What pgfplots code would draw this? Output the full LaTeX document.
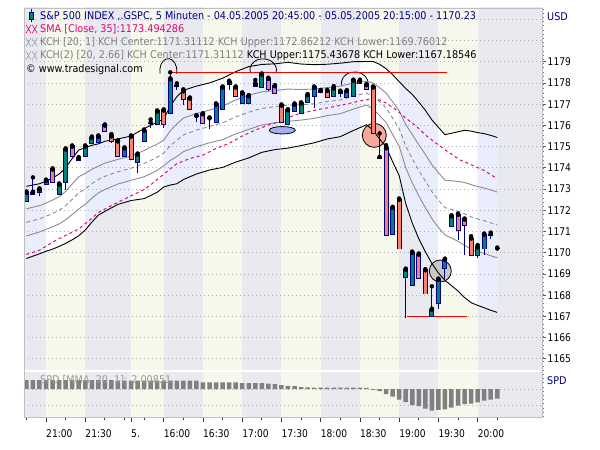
\documentclass[border=0pt]{standalone}
\usepackage{pgfplots}
\pgfplotsset{compat=1.18}
\usepgfplotslibrary{fillbetween}
\usepackage{pgfplotstable}
\usepackage{fontspec}
\setmainfont{DejaVu Sans}[FakeStretch=0.91]
\newfontfamily\numfont{DejaVu Sans}[FakeStretch=0.86]
\newcommand{\tfont}{\fontsize{10.6bp}{12bp}\selectfont}
\newcommand{\nfont}{\numfont\fontsize{10.6bp}{12bp}\selectfont}

\definecolor{bgGray}{RGB}{233,233,240}
\definecolor{bgYel}{RGB}{246,248,236}
\definecolor{chGray}{RGB}{233,237,252}
\definecolor{navyc}{RGB}{0,0,128}
\definecolor{tealc}{RGB}{0,128,128}
\definecolor{salmonc}{RGB}{250,128,114}
\definecolor{pinkc}{RGB}{230,0,126}
\definecolor{gridc}{RGB}{175,175,180}
\definecolor{framec}{RGB}{190,190,195}
\definecolor{linegray}{RGB}{140,140,140}
\definecolor{txtgray}{RGB}{128,128,128}
\definecolor{xxgray}{RGB}{160,160,160}
\definecolor{spdc}{RGB}{128,128,128}

% candles: k O H L C
\pgfplotstableread{
k O H L C
0 1172.42 1172.84 1172.42 1172.84
1 1172.75 1173.55 1172.75 1172.84
2 1172.85 1172.99 1172.67 1172.99
3 1173.22 1173.40 1173.22 1173.40
5 1172.75 1173.22 1172.75 1173.22
6 1173.35 1174.87 1172.96 1174.87
9 1174.54 1175.01 1174.54 1175.01
10 1175.15 1175.43 1175.15 1175.43
11 1175.23 1175.48 1175.23 1175.48
15 1174.57 1174.92 1174.57 1174.92
17 1174.26 1174.63 1173.78 1174.63
18 1175.25 1175.76 1175.25 1175.76
20 1176.08 1176.66 1176.08 1176.66
22 1176.57 1178.50 1176.57 1178.17
29 1176.14 1176.99 1176.09 1176.99
30 1176.75 1177.79 1176.75 1177.79
33 1177.07 1177.51 1177.07 1177.51
34 1177.07 1177.38 1177.07 1177.38
35 1177.85 1178.14 1177.85 1177.95
36 1177.79 1178.40 1177.79 1178.40
40 1176.08 1176.72 1176.08 1176.72
41 1176.69 1176.99 1176.69 1176.99
42 1176.60 1177.04 1176.60 1177.04
43 1177.12 1177.43 1177.12 1177.43
44 1177.40 1177.79 1176.80 1177.79
47 1177.40 1177.85 1177.40 1177.74
48 1177.51 1177.59 1177.35 1177.59
49 1177.32 1177.62 1177.32 1177.62
50 1177.40 1178.11 1177.40 1178.11
56 1170.86 1172.12 1170.86 1172.12
58 1168.86 1169.21 1166.95 1169.21
59 1168.50 1170.01 1168.50 1170.01
62 1167.04 1168.42 1167.04 1167.32
63 1167.65 1168.74 1167.37 1168.74
64 1169.26 1169.68 1168.70 1169.68
65 1171.28 1171.72 1171.28 1171.72
69 1169.88 1170.36 1169.73 1170.25
70 1170.20 1170.86 1169.88 1170.86
}\upC
\pgfplotstableread{
k O H L C
4 1173.93 1173.93 1173.32 1173.32
7 1175.01 1175.01 1174.54 1174.54
8 1174.46 1174.46 1174.37 1174.37
12 1176.00 1176.00 1175.72 1175.72
13 1175.48 1175.59 1175.18 1175.28
14 1175.25 1175.25 1174.54 1174.54
16 1175.48 1175.48 1174.40 1174.40
21 1176.71 1176.71 1175.86 1176.08
24 1177.60 1177.70 1176.96 1177.23
25 1177.27 1177.27 1176.75 1176.75
27 1176.53 1176.53 1176.09 1176.09
31 1178.06 1178.06 1177.67 1177.93
32 1177.79 1177.79 1177.38 1177.38
37 1178.20 1178.20 1177.62 1177.70
38 1177.85 1177.85 1177.54 1177.54
39 1176.94 1176.94 1176.09 1176.17
45 1177.62 1177.67 1177.56 1177.56
46 1177.63 1177.63 1177.35 1177.35
51 1178.11 1178.11 1178.01 1178.01
52 1177.90 1177.90 1177.70 1177.70
53 1177.79 1177.79 1175.62 1175.62
55 1174.92 1175.07 1170.83 1170.83
57 1172.51 1172.51 1170.20 1170.20
60 1169.92 1169.92 1168.83 1168.83
61 1169.18 1169.18 1168.08 1168.08
66 1171.80 1171.80 1170.59 1171.09
67 1171.57 1171.57 1169.88 1171.30
68 1170.67 1170.78 1169.88 1169.88
}\dnC
\pgfplotstableread{
k O H L C
19 1176.09 1176.28 1175.86 1176.09
23 1177.85 1177.98 1177.67 1177.85
26 1176.44 1176.44 1176.16 1176.44
28 1176.33 1176.33 1175.81 1176.33
54 1174.47 1175.62 1174.47 1174.47
71 1170.83 1170.95 1170.67 1170.83
72 1170.20 1170.20 1170.20 1170.20
}\djC
% Keltner channels
\pgfplotstableread{
k up2 up1 ctr lo1 lo2
0 1173.13 1172.07 1171.43 1170.79 1169.73
2 1173.25 1172.22 1171.60 1170.98 1169.95
3 1173.37 1172.34 1171.72 1171.10 1170.07
4 1173.53 1172.48 1171.85 1171.22 1170.17
5 1173.70 1172.64 1172.00 1171.36 1170.30
6 1174.00 1172.89 1172.22 1171.55 1170.44
7 1174.44 1173.24 1172.52 1171.80 1170.61
8 1174.84 1173.58 1172.82 1172.06 1170.80
9 1174.95 1173.74 1173.01 1172.28 1171.07
10 1175.06 1173.93 1173.25 1172.57 1171.44
11 1175.13 1174.08 1173.45 1172.82 1171.77
12 1175.25 1174.22 1173.60 1172.98 1171.95
14 1175.36 1174.40 1173.82 1173.24 1172.28
16 1175.50 1174.55 1173.98 1173.41 1172.46
18 1175.85 1174.82 1174.20 1173.58 1172.55
20 1176.15 1175.12 1174.50 1173.88 1172.85
21 1176.30 1175.30 1174.70 1174.10 1173.10
22 1176.91 1175.75 1175.05 1174.35 1173.19
23 1177.35 1176.07 1175.30 1174.53 1173.25
24 1177.65 1176.34 1175.55 1174.76 1173.45
26 1177.85 1176.56 1175.78 1175.00 1173.71
28 1178.00 1176.72 1175.95 1175.18 1173.90
30 1178.22 1176.91 1176.12 1175.33 1174.02
32 1178.53 1177.20 1176.40 1175.60 1174.27
34 1178.77 1177.43 1176.62 1175.81 1174.47
36 1178.87 1177.58 1176.80 1176.02 1174.73
38 1178.90 1177.64 1176.88 1176.12 1174.86
40 1178.97 1177.71 1176.95 1176.19 1174.93
42 1178.89 1177.69 1176.97 1176.25 1175.05
44 1178.86 1177.71 1177.02 1176.33 1175.18
46 1178.88 1177.78 1177.12 1176.46 1175.36
48 1178.93 1177.85 1177.20 1176.55 1175.47
50 1179.00 1177.99 1177.38 1176.77 1175.76
52 1179.01 1178.08 1177.52 1176.96 1176.03
53 1179.01 1178.00 1177.39 1176.78 1175.77
54 1178.88 1177.78 1177.12 1176.46 1175.36
55 1178.67 1177.52 1176.83 1176.14 1174.99
56 1178.39 1177.11 1176.34 1175.57 1174.29
57 1178.06 1176.68 1175.85 1175.02 1173.64
58 1177.74 1176.05 1175.03 1174.01 1172.32
59 1177.46 1175.57 1174.43 1173.29 1171.40
60 1177.10 1175.09 1173.88 1172.67 1170.66
61 1176.71 1174.63 1173.38 1172.13 1170.05
62 1176.26 1174.15 1172.88 1171.61 1169.50
63 1175.91 1173.77 1172.48 1171.19 1169.05
64 1175.56 1173.42 1172.13 1170.84 1168.70
65 1175.63 1173.39 1172.04 1170.69 1168.45
66 1175.70 1173.36 1171.95 1170.54 1168.20
67 1175.77 1173.31 1171.83 1170.35 1167.89
68 1175.73 1173.21 1171.69 1170.17 1167.65
69 1175.66 1173.12 1171.59 1170.06 1167.52
70 1175.61 1173.05 1171.51 1169.97 1167.41
71 1175.53 1172.96 1171.41 1169.86 1167.29
72 1175.43 1172.86 1171.31 1169.76 1167.19
}\kch
\pgfplotstableread{
k sma
0 1169.92
2 1170.12
4 1170.50
6 1170.82
8 1171.12
10 1171.62
11 1171.90
13 1172.22
14 1172.38
16 1172.68
18 1172.98
19 1173.20
21 1173.70
23 1174.20
25 1174.44
27 1174.60
29 1174.92
31 1175.15
33 1175.50
35 1175.78
37 1176.02
39 1176.20
41 1176.49
43 1176.64
45 1176.77
47 1176.88
49 1177.01
51 1177.15
52.5 1177.23
54 1177.20
55 1177.05
56.6 1176.72
58 1176.35
59.7 1175.94
61 1175.55
62.7 1175.15
64.5 1174.75
66.3 1174.37
68 1174.15
69.9 1173.89
72 1173.49
}\sma
\pgfplotstableread{
k v
0 1.08
1 1.08
2 1.08
3 1.08
4 1.08
5 1.08
6 1.08
7 1.08
8 1.08
9 1.08
10 1.08
11 1.08
12 1.08
13 1.08
14 1.0
15 1.0
16 1.0
17 1.0
18 1.0
19 1.0
20 1.0
21 1.0
22 1.0
23 1.0
24 1.0
25 1.0
26 1.0
27 0.8
28 0.8
29 0.8
30 0.8
31 0.8
32 0.8
33 0.7
34 0.7
35 0.7
36 0.7
37 0.65
38 0.6
39 0.48
40 0.38
41 0.36
42 0.22
43 0.2
44 0.16
45 0.16
46 0.16
47 0.16
48 0.16
49 0.16
50 0.16
51 0.16
52 0.14
53 -0.1
54 -0.25
55 -0.6
56 -0.92
57 -1.28
58 -1.56
59 -1.92
60 -2.04
61 -2.36
62 -2.6
63 -2.51
64 -2.43
65 -2.24
66 -2.0
67 -1.8
68 -1.76
69 -1.59
70 -1.4
71 -1.28
72 -1.16
}\spd

% thin "XX" legend icon: #1 = colour, #2 = x, #3 = y (bp, centre line)
\newcommand{\xxicon}[3]{%
  \draw[#1, line width=0.6bp] (#2bp,#3bp-4.2bp) -- ++(5bp,8.4bp) (#2bp,#3bp+4.2bp) -- ++(5bp,-8.4bp);
  \draw[#1, line width=0.6bp] (#2bp+6.2bp,#3bp-4.2bp) -- ++(5bp,8.4bp) (#2bp+6.2bp,#3bp+4.2bp) -- ++(5bp,-8.4bp);
}

\begin{document}
\begin{tikzpicture}
\path (0bp,0bp) rectangle (600bp,450bp);

% ---------------- main price panel ----------------
\begin{axis}[
  at={(24bp,79bp)}, anchor=south west, scale only axis,
  width=518bp, height=363bp,
  xmin=-0.367, xmax=78.84, ymin=1164.43, ymax=1181.53,
  axis line style={framec, line width=0.8bp},
  xtick=\empty,
  ytick={1165,1166,...,1179},
  ytick pos=right, yticklabel pos=right,
  tick align=outside,
  major tick length=3.5bp,
  tick style={black!65, line width=0.8bp},
  yticklabel style={anchor=west, inner sep=0pt, xshift=2bp, font=\nfont},
  /pgf/number format/assume math mode=true,
  /pgf/number format/1000 sep={},
]
\addplot[draw=none, name path=TOP, forget plot] coordinates {(-1,1182) (80,1182)};
\addplot[draw=none, name path=BOT, forget plot] coordinates {(-1,1164) (80,1164)};
\addplot[bgGray, forget plot] fill between[of=TOP and BOT, soft clip={domain=-1:3}];
\addplot[bgYel, forget plot] fill between[of=TOP and BOT, soft clip={domain=3:9}];
\addplot[bgGray, forget plot] fill between[of=TOP and BOT, soft clip={domain=9:16}];
\addplot[bgYel, forget plot] fill between[of=TOP and BOT, soft clip={domain=16:21}];
\addplot[bgGray, forget plot] fill between[of=TOP and BOT, soft clip={domain=21:27}];
\addplot[bgYel, forget plot] fill between[of=TOP and BOT, soft clip={domain=27:33}];
\addplot[bgGray, forget plot] fill between[of=TOP and BOT, soft clip={domain=33:39}];
\addplot[bgYel, forget plot] fill between[of=TOP and BOT, soft clip={domain=39:45}];
\addplot[bgGray, forget plot] fill between[of=TOP and BOT, soft clip={domain=45:51}];
\addplot[bgYel, forget plot] fill between[of=TOP and BOT, soft clip={domain=51:57}];
\addplot[bgGray, forget plot] fill between[of=TOP and BOT, soft clip={domain=57:63}];
\addplot[bgYel, forget plot] fill between[of=TOP and BOT, soft clip={domain=63:69}];
\addplot[bgGray, forget plot] fill between[of=TOP and BOT, soft clip={domain=69:80}];
% channel area
\addplot[draw=none, name path=U2, forget plot] table[x=k,y=up2]{\kch};
\addplot[draw=none, name path=L2, forget plot] table[x=k,y=lo2]{\kch};
\addplot[chGray, forget plot] fill between[of=U2 and L2, soft clip={domain=0:3}];
\addplot[white, forget plot] fill between[of=U2 and L2, soft clip={domain=3:9}];
\addplot[chGray, forget plot] fill between[of=U2 and L2, soft clip={domain=9:16}];
\addplot[white, forget plot] fill between[of=U2 and L2, soft clip={domain=16:21}];
\addplot[chGray, forget plot] fill between[of=U2 and L2, soft clip={domain=21:27}];
\addplot[white, forget plot] fill between[of=U2 and L2, soft clip={domain=27:33}];
\addplot[chGray, forget plot] fill between[of=U2 and L2, soft clip={domain=33:39}];
\addplot[white, forget plot] fill between[of=U2 and L2, soft clip={domain=39:45}];
\addplot[chGray, forget plot] fill between[of=U2 and L2, soft clip={domain=45:51}];
\addplot[white, forget plot] fill between[of=U2 and L2, soft clip={domain=51:57}];
\addplot[chGray, forget plot] fill between[of=U2 and L2, soft clip={domain=57:63}];
\addplot[white, forget plot] fill between[of=U2 and L2, soft clip={domain=63:69}];
\addplot[chGray, forget plot] fill between[of=U2 and L2, soft clip={domain=69:72}];
% grid
\pgfplotsinvokeforeach{1165,1166,...,1181}{
  \addplot[gridc, line width=0.8bp, dash pattern=on 0.8bp off 3.2bp, forget plot] coordinates {(-1,#1) (80,#1)};
}
% annotations (under the lines)
\draw[black, line width=0.8bp, fill={rgb,255:red,245;green,168;blue,158}] (axis cs:53.2,1175.53) circle[radius=12bp];
\draw[black, line width=0.8bp, fill={rgb,255:red,200;green,200;blue,202}] (axis cs:63.29,1169.14) circle[radius=11bp];
\draw[black, line width=0.8bp, fill={rgb,255:red,168;green,174;blue,242}] (axis cs:39.13,1175.77) ellipse[x radius=13bp, y radius=3.7bp];
\draw[black, line width=0.8bp] (axis cs:21.7,1178.58) ++(195:8.5bp and 12bp) arc[start angle=195, end angle=-15, x radius=8.5bp, y radius=12bp];
\draw[black, line width=0.8bp] (axis cs:36.2,1178.62) ++(195:13.3bp and 11bp) arc[start angle=195, end angle=-15, x radius=13.3bp, y radius=11bp];
\draw[black, line width=0.8bp] (axis cs:50.2,1178.0) ++(195:13.3bp and 11bp) arc[start angle=195, end angle=-15, x radius=13.3bp, y radius=11bp];
% channel lines
\addplot[linegray, line width=0.9bp, forget plot] table[x=k,y=up1]{\kch};
\addplot[linegray, line width=0.9bp, forget plot] table[x=k,y=lo1]{\kch};
\addplot[linegray, line width=0.9bp, dash pattern=on 4bp off 3bp, forget plot] table[x=k,y=ctr]{\kch};
\addplot[pinkc, line width=1bp, dash pattern=on 3bp off 3bp, forget plot] table[x=k,y=sma]{\sma};
\addplot[black, line width=0.9bp, forget plot] table[x=k,y=up2]{\kch};
\addplot[black, line width=0.9bp, forget plot] table[x=k,y=lo2]{\kch};
% red trend lines
\addplot[red, line width=1.1bp, forget plot] coordinates {(22.2,1178.5) (64.3,1178.5)};
\addplot[red, line width=1.1bp, forget plot] coordinates {(58.2,1166.98) (67.3,1166.98)};
% wicks
\addplot[only marks, mark=none, forget plot, error bars/.cd, y dir=minus, y explicit, error mark=none,
  error bar style={draw=navyc, line width=1bp}] table[x=k, y=H, y error expr=\thisrow{H}-\thisrow{L}]{\upC};
\addplot[only marks, mark=none, forget plot, error bars/.cd, y dir=minus, y explicit, error mark=none,
  error bar style={draw=navyc, line width=1bp}] table[x=k, y=H, y error expr=\thisrow{H}-\thisrow{L}]{\dnC};
\addplot[only marks, mark=none, forget plot, error bars/.cd, y dir=minus, y explicit, error mark=none,
  error bar style={draw=navyc, line width=1bp}] table[x=k, y=H, y error expr=\thisrow{H}-\thisrow{L}]{\djC};
% bodies: outline
\addplot[only marks, mark=none, forget plot, error bars/.cd, y dir=minus, y explicit, error mark=none,
  error bar style={draw=navyc, line width=5bp}] table[x=k, y expr=\thisrow{C}+0.045, y error expr=\thisrow{C}-\thisrow{O}+0.09]{\upC};
\addplot[only marks, mark=none, forget plot, error bars/.cd, y dir=minus, y explicit, error mark=none,
  error bar style={draw=navyc, line width=5bp}] table[x=k, y expr=\thisrow{O}+0.045, y error expr=\thisrow{O}-\thisrow{C}+0.09]{\dnC};
\addplot[only marks, mark=none, forget plot, error bars/.cd, y dir=minus, y explicit, error mark=none,
  error bar style={draw=navyc, line width=5bp}] table[x=k, y expr=\thisrow{C}+0.045, y error expr=0.09]{\djC};
% bodies: fill
\addplot[only marks, mark=none, forget plot, error bars/.cd, y dir=minus, y explicit, error mark=none,
  error bar style={draw=tealc, line width=3bp}] table[x=k, y=C, y error expr=\thisrow{C}-\thisrow{O}]{\upC};
\addplot[only marks, mark=none, forget plot, error bars/.cd, y dir=minus, y explicit, error mark=none,
  error bar style={draw=salmonc, line width=3bp}] table[x=k, y=O, y error expr=\thisrow{O}-\thisrow{C}]{\dnC};
\end{axis}

% ---------------- SPD panel ----------------
\begin{axis}[
  at={(24bp,32.7bp)}, anchor=south west, scale only axis,
  width=518bp, height=46.3bp,
  xmin=-0.367, xmax=78.84, ymin=-3.39, ymax=2.16,
  axis line style={framec, line width=0.8bp},
  ytick=\empty,
  xtick={3,9,16,21,27,33,39,45,51,57,63,69},
  xticklabels={21:00,21:30,5.,16:00,16:30,17:00,17:30,18:00,18:30,19:00,19:30,20:00},
  minor xtick={0,6,12,15,18,24,30,36,42,48,54,60,66,72},
  xtick pos=bottom, tick align=outside,
  major tick length=5bp, minor tick length=3bp,
  tick style={black!80, line width=0.8bp},
  xticklabel style={anchor=west, inner sep=0pt, yshift=-11bp, font=\nfont},
]
\addplot[draw=none, name path=TOP, forget plot] coordinates {(-1,3) (80,3)};
\addplot[draw=none, name path=BOT, forget plot] coordinates {(-1,-4) (80,-4)};
\addplot[bgGray, forget plot] fill between[of=TOP and BOT, soft clip={domain=-1:3}];
\addplot[bgYel, forget plot] fill between[of=TOP and BOT, soft clip={domain=3:9}];
\addplot[bgGray, forget plot] fill between[of=TOP and BOT, soft clip={domain=9:16}];
\addplot[bgYel, forget plot] fill between[of=TOP and BOT, soft clip={domain=16:21}];
\addplot[bgGray, forget plot] fill between[of=TOP and BOT, soft clip={domain=21:27}];
\addplot[bgYel, forget plot] fill between[of=TOP and BOT, soft clip={domain=27:33}];
\addplot[bgGray, forget plot] fill between[of=TOP and BOT, soft clip={domain=33:39}];
\addplot[bgYel, forget plot] fill between[of=TOP and BOT, soft clip={domain=39:45}];
\addplot[bgGray, forget plot] fill between[of=TOP and BOT, soft clip={domain=45:51}];
\addplot[bgYel, forget plot] fill between[of=TOP and BOT, soft clip={domain=51:57}];
\addplot[bgGray, forget plot] fill between[of=TOP and BOT, soft clip={domain=57:63}];
\addplot[bgYel, forget plot] fill between[of=TOP and BOT, soft clip={domain=63:69}];
\addplot[bgGray, forget plot] fill between[of=TOP and BOT, soft clip={domain=69:80}];
\addplot[gridc, line width=0.8bp, dash pattern=on 0.8bp off 3.2bp, forget plot] coordinates {(-1,0) (80,0)};
\addplot[gridc, line width=0.8bp, dash pattern=on 0.8bp off 3.2bp, forget plot] coordinates {(-1,-2) (80,-2)};
\addplot[ybar, bar width=4.5bp, fill=spdc, draw=none, forget plot] table[x=k,y=v]{\spd};
\end{axis}

% frame, separator, right-axis dots
\draw[framec, line width=0.8bp] (24bp,32.7bp) rectangle (542bp,442bp);
\draw[white, line width=2bp] (24.6bp,79bp) -- (541.4bp,79bp);
\draw[black!55, line width=0.9bp, dash pattern=on 0.9bp off 3.3bp] (543.2bp,33bp) -- (543.2bp,442bp);

% texts
\node[anchor=west, inner sep=0pt, text=navyc, font=\tfont] at (547bp,433bp) {USD};
\node[anchor=west, inner sep=0pt, text=navyc, font=\tfont] at (547bp,69bp) {SPD};
\node[anchor=west, inner sep=0pt, text=black!40, font=\tfont] at (40bp,70bp) {SPD [MMA, 20, 1]: 2.00851};

\draw[navyc, line width=0.8bp] (31.5bp,441bp) -- (31.5bp,428bp);
\filldraw[fill=tealc, draw=navyc, line width=0.8bp] (29.5bp,438bp) rectangle (33.5bp,431bp);
\node[anchor=west, inner sep=0pt, text=navyc, font=\tfont] at (40bp,434.3bp) {S\&P 500 INDEX ,.GSPC, 5 Minuten - 04.05.2005 20:45:00 - 05.05.2005 20:15:00 - 1170.23};
\xxicon{pinkc}{26}{421}
\node[anchor=west, inner sep=0pt, text=pinkc, font=\tfont] at (40bp,421bp) {SMA [Close, 35]:1173.494286};
\xxicon{xxgray}{26}{407.7}
\node[anchor=west, inner sep=0pt, text=txtgray, font=\tfont] at (40bp,407.7bp) {KCH [20, 1] KCH Center:1171.31112 KCH Upper:1172.86212 KCH Lower:1169.76012};
\xxicon{xxgray}{26}{394.5}
\node[anchor=west, inner sep=0pt, text=txtgray, font=\tfont] at (40bp,394.5bp) {KCH(2) [20, 2.66] KCH Center:1171.31112 \textcolor{black}{KCH Upper:1175.43678 KCH Lower:1167.18546}};
\node[anchor=west, inner sep=0pt, text=black, font=\tfont] at (26bp,380.7bp) {© www.tradesignal.com};
\pgfresetboundingbox
\path (0bp,0bp) rectangle (600bp,450bp);
\end{tikzpicture}
\end{document}
